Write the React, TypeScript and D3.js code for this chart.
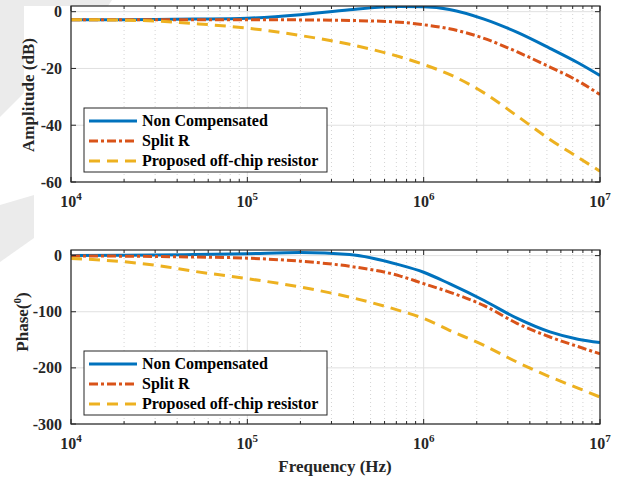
import * as d3 from "d3";

// frequency points (Hz) shared by every curve
const freq = [1e4, 2e4, 3e4, 5e4, 1e5, 2e5, 3.8e5, 7.3e5, 1e6, 1.4e6, 2.2e6, 3.4e6, 5.2e6, 7.5e6, 1e7];

// amplitude (dB)
const ampNonComp = [-2.8, -2.8, -2.75, -2.6, -2.3, -1.1, 0.7, 1.8, 1.7, 0.8, -2.6, -7.3, -12.9, -18, -22.5];
const ampSplitR = [-2.8, -2.8, -2.8, -2.8, -2.8, -2.9, -3.1, -3.7, -4.6, -6.0, -9.4, -14.2, -19.5, -24.4, -29.2];
const ampProposed = [-2.8, -3.0, -3.3, -4.2, -5.8, -8.4, -11.5, -15.9, -18.6, -22.1, -28.6, -36.8, -45, -51.3, -56.2];

// phase (deg)
const phNonComp = [0, 0.5, 1, 2, 3.5, 5.5, 2, -16.5, -29.6, -50, -80, -112, -136, -149, -155];
const phSplitR = [-0.5, -1, -1.5, -2.5, -4.5, -10, -19, -36, -50, -65, -89, -121, -145, -162, -175];
const phProposed = [-5, -11, -17, -28, -41, -56, -74, -98, -112, -133, -160, -190, -216, -236, -252];

const seriesNames = ["Non Compensated", "Split R", "Proposed off-chip resistor"];
const colors = ["#0072BD", "#D95319", "#EDB120"];
const dashes = [undefined, "9,3,3,3", "11,7"];

const ampTicks = [0, -20, -40, -60];
const phaseTicks = [0, -100, -200, -300];
const decades = [4, 5, 6, 7];

const W = 623;
const H = 480;
const left = 71;
const right = 600;
const font = "'Liberation Serif', 'Times New Roman', serif";

const x = d3.scaleLog().domain([1e4, 1e7]).range([left, right]);

const minorTicks: number[] = [];
for (let e = 4; e < 7; e++) for (let m = 2; m < 10; m++) minorTicks.push(m * Math.pow(10, e));

function Panel({ id, top, bottom, domain, ticks, values, legendTop }: any) {
  const y = d3.scaleLinear().domain(domain).range([bottom, top]);
  const line = d3
    .line<number>()
    .x((_, i) => x(freq[i]))
    .y((d) => y(d))
    .curve(d3.curveMonotoneX);

  return (
    <g>
      <clipPath id={`clip-${id}`}>
        <rect x={left} y={top} width={right - left} height={bottom - top} />
      </clipPath>
      <rect x={left} y={top} width={right - left} height={bottom - top} fill="#fff" />

      {/* minor grid */}
      {minorTicks.map((t) => (
        <line key={`m${t}`} x1={x(t)} x2={x(t)} y1={top} y2={bottom} stroke="#d4d4d4" strokeDasharray="1,3" />
      ))}
      {/* major grid */}
      {decades.map((e) => (
        <line key={`g${e}`} x1={x(Math.pow(10, e))} x2={x(Math.pow(10, e))} y1={top} y2={bottom} stroke="#e0e0e0" />
      ))}
      {ticks.map((t: number) => (
        <line key={`gy${t}`} x1={left} x2={right} y1={y(t)} y2={y(t)} stroke="#e0e0e0" />
      ))}

      {/* curves */}
      <g clipPath={`url(#clip-${id})`}>
        {values.map((v: number[], i: number) => (
          <path
            key={i}
            d={line(v) ?? ""}
            fill="none"
            stroke={colors[i]}
            strokeWidth={3}
            strokeDasharray={dashes[i]}
          />
        ))}
      </g>

      {/* ticks */}
      {minorTicks.map((t) => (
        <g key={`mt${t}`} stroke="#262626">
          <line x1={x(t)} x2={x(t)} y1={bottom} y2={bottom - 3} />
          <line x1={x(t)} x2={x(t)} y1={top} y2={top + 3} />
        </g>
      ))}
      {decades.map((e) => (
        <g key={`t${e}`} stroke="#262626">
          <line x1={x(Math.pow(10, e))} x2={x(Math.pow(10, e))} y1={bottom} y2={bottom - 5} />
          <line x1={x(Math.pow(10, e))} x2={x(Math.pow(10, e))} y1={top} y2={top + 5} />
        </g>
      ))}
      {ticks.map((t: number) => (
        <g key={`ty${t}`} stroke="#262626">
          <line x1={left} x2={left + 5} y1={y(t)} y2={y(t)} />
          <line x1={right} x2={right - 5} y1={y(t)} y2={y(t)} />
        </g>
      ))}
      <rect x={left} y={top} width={right - left} height={bottom - top} fill="none" stroke="#262626" strokeWidth={1.2} />

      {/* tick labels */}
      {ticks.map((t: number) => (
        <text key={`ly${t}`} x={62} y={y(t)} dy="0.35em" textAnchor="end" fontSize={16} fontWeight="bold" fill="#262626">
          {t}
        </text>
      ))}
      {decades.map((e) => (
        <text key={`lx${e}`} x={x(Math.pow(10, e))} y={bottom + 25} textAnchor="middle" fontSize={16} fontWeight="bold" fill="#262626">
          10<tspan fontSize={11} dy={-7}>{e}</tspan>
        </text>
      ))}

      {/* legend */}
      <rect x={84} y={legendTop} width={243} height={64} fill="#fff" stroke="#262626" strokeWidth={1} />
      {seriesNames.map((name, i) => {
        const cy = legendTop + 13 + i * 20;
        return (
          <g key={name}>
            <line x1={89} x2={137} y1={cy} y2={cy} stroke={colors[i]} strokeWidth={3} strokeDasharray={dashes[i]} />
            <text x={142} y={cy + 5} fontSize={16} fontWeight="bold" fill="#000">
              {name}
            </text>
          </g>
        );
      })}
    </g>
  );
}

export default function App() {
  return (
    <svg
      width={W}
      height={H}
      viewBox={`0 0 ${W} ${H}`}
      style={{ position: "absolute", left: 0, top: 0, background: "#fff", fontFamily: font }}
    >
      {/* faint background shapes */}
      <polygon points="0,0 112,0 108,6 24,6 24,93 0,117" fill="#ebebeb" />
      <polygon points="0,205 34,195 34,238 0,262" fill="#ebebeb" />

      <Panel
        id="amp"
        top={6}
        bottom={182}
        domain={[-60, 2]}
        ticks={ampTicks}
        values={[ampNonComp, ampSplitR, ampProposed]}
        legendTop={108}
      />
      <Panel
        id="phase"
        top={250}
        bottom={424}
        domain={[-300, 10]}
        ticks={phaseTicks}
        values={[phNonComp, phSplitR, phProposed]}
        legendTop={351}
      />

      <text transform="translate(34,95) rotate(-90)" textAnchor="middle" fontSize={17} fontWeight="bold" fill="#262626">
        Amplitude (dB)
      </text>
      <text transform="translate(28,322) rotate(-90)" textAnchor="middle" fontSize={17} fontWeight="bold" fill="#262626">
        Phase(<tspan fontSize={11} dy={-7}>0</tspan>
        <tspan dy={7}>)</tspan>
      </text>
      <text x={335} y={472} textAnchor="middle" fontSize={17} fontWeight="bold" fill="#262626">
        Frequency (Hz)
      </text>
    </svg>
  );
}
